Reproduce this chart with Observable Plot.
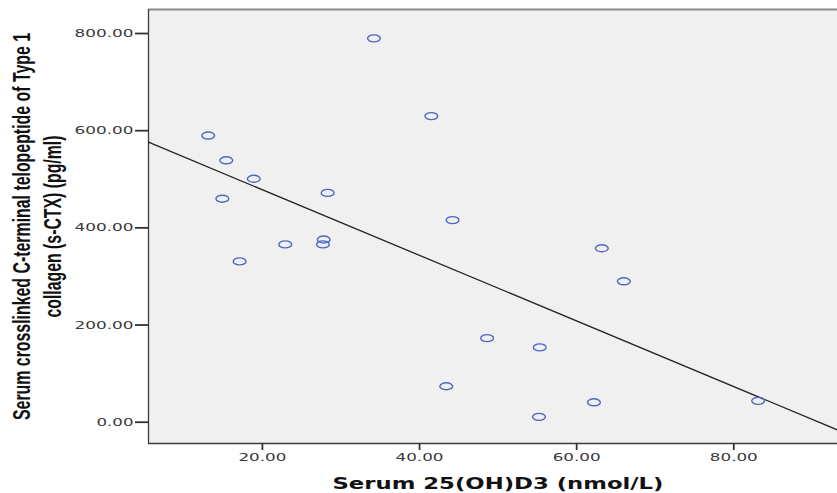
<!DOCTYPE html>
<html>
<head>
<meta charset="utf-8">
<script src="https://cdn.jsdelivr.net/npm/d3@7"></script>
<script src="https://cdn.jsdelivr.net/npm/@observablehq/plot@0.6"></script>
<style>
  html, body { margin: 0; padding: 0; background: #ffffff; }
  #chart svg { display: block; }
</style>
</head>
<body>
<div id="chart"></div>
<script>
// Serum 25(OH)D3 (nmol/L)
const vitD = [34.2, 41.5, 13.1, 15.4, 18.9, 14.9, 28.3, 44.2, 17.1, 22.9, 27.8, 27.7, 48.6, 43.4, 63.2, 66.0, 55.3, 62.2, 55.2, 83.1];
// Serum s-CTX (pg/ml)
const sctx = [790, 630, 590, 539, 501, 460, 472, 416, 331, 366, 376, 366, 173, 74, 358, 290, 154, 41, 11, 44];

const xTicks = [20, 40, 60, 80];
const yTicks = [0, 200, 400, 600, 800];
const xDomain = [5.5, 93.2];
const yDomain = [-43.8, 849.4];

const xTitle = "Serum 25(OH)D3 (nmol/L)";
const yTitle1 = "Serum crosslinked C-terminal telopeptide of Type 1";
const yTitle2 = "collagen (s-CTX) (pg/ml)";

const points = vitD.map((v, i) => ({x: v, y: sctx[i]}));

// least-squares fit line computed from the data, drawn across the x domain
const mx = d3.mean(vitD), my = d3.mean(sctx);
const slope = d3.sum(vitD, (v, i) => (v - mx) * (sctx[i] - my)) / d3.sum(vitD, v => (v - mx) ** 2);
const intercept = my - slope * mx;
const fitLine = xDomain.map(x => ({x, y: intercept + slope * x}));

const ellipse = {
  draw(ctx) {
    const rx = 6.4, ry = 3.5, k = 0.5523;
    ctx.moveTo(rx, 0);
    ctx.bezierCurveTo(rx, ry * k, rx * k, ry, 0, ry);
    ctx.bezierCurveTo(-rx * k, ry, -rx, ry * k, -rx, 0);
    ctx.bezierCurveTo(-rx, -ry * k, -rx * k, -ry, 0, -ry);
    ctx.bezierCurveTo(rx * k, -ry, rx, -ry * k, rx, 0);
    ctx.closePath();
  }
};

const fmt = d3.format(".2f");

const chart = Plot.plot({
  width: 837,
  height: 493,
  marginLeft: 148,
  marginRight: 0,
  marginTop: 9,
  marginBottom: 50,
  style: {background: "#ffffff", fontFamily: "DejaVu Sans, sans-serif"},
  x: {domain: xDomain},
  y: {domain: yDomain},
  marks: [
    Plot.frame({fill: "#f0f0f0", stroke: "none"}),
    Plot.ruleY([yDomain[1]], {stroke: "#8a8a8a", strokeWidth: 2.2}),
    Plot.ruleX([xDomain[0]], {stroke: "#3a3a3a", strokeWidth: 1.3}),
    Plot.ruleY([yDomain[0]], {stroke: "#3a3a3a", strokeWidth: 1.6}),
    Plot.axisY({ticks: yTicks, tickFormat: fmt, tickSize: 13, tickPadding: 2, label: null,
      stroke: "#333", strokeWidth: 1.8, fill: "#3a3a3a", fontSize: 11}),
    Plot.axisX({ticks: xTicks, tickFormat: fmt, tickSize: 7, tickPadding: 3, label: null,
      stroke: "#333", strokeWidth: 1.8, fill: "#3a3a3a", fontSize: 11}),
    Plot.line(fitLine, {x: "x", y: "y", stroke: "#222", strokeWidth: 1.3}),
    Plot.dot(points, {x: "x", y: "y", symbol: ellipse, fill: "none", stroke: "#4f65c2", strokeWidth: 1.4}),
    Plot.text([xTitle], {frameAnchor: "bottom", dx: 5, dy: 45, lineAnchor: "bottom", textAnchor: "middle",
      fontSize: 15, fontWeight: "bold", fill: "#111"}),
    Plot.text([yTitle1], {frameAnchor: "left", dx: -119, rotate: -90, lineAnchor: "bottom", textAnchor: "middle",
      fontSize: 23, fontFamily: "Liberation Sans Narrow, Liberation Sans, sans-serif", fontWeight: "bold", fill: "#111"}),
    Plot.text([yTitle2], {frameAnchor: "left", dx: -88, rotate: -90, lineAnchor: "bottom", textAnchor: "middle",
      fontSize: 23, fontFamily: "Liberation Sans Narrow, Liberation Sans, sans-serif", fontWeight: "bold", fill: "#111"})
  ]
});

document.getElementById("chart").appendChild(chart);

const titleLengths = new Map([[xTitle, 331], [yTitle1, 387], [yTitle2, 182]]);
chart.querySelectorAll("text").forEach(t => {
  const s = t.textContent.trim();
  let len = null;
  if (titleLengths.has(s)) len = titleLengths.get(s);
  else if (/^\d+\.\d\d$/.test(s)) len = 11 * s.replace(/[^0-9]/g, "").length + 4;
  if (len != null) {
    t.setAttribute("textLength", len);
    t.setAttribute("lengthAdjust", "spacingAndGlyphs");
  }
});
</script>
</body>
</html>
